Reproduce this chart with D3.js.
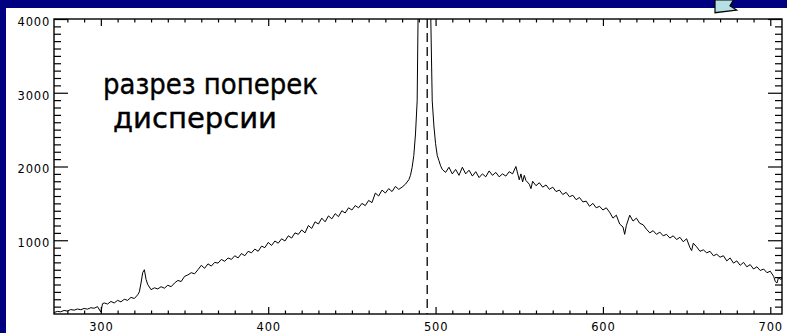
<!DOCTYPE html>
<html><head><meta charset="utf-8">
<script src="https://cdn.jsdelivr.net/npm/d3@7"></script>
<style>html,body{margin:0;padding:0;background:#000080;}svg{display:block;}</style>
</head><body>
<script>
// ---- data ----
const positions = [
272,274,276,278,280,282,284,286,288,290,
292,294,296,298,300,301,302,304,306,308,
310,312,314,316,318,320,322,323,324,325,
326,327,328,330,332,334,336,338,340,342,
344,346,348,350,352,354,356,358,360,362,
364,366,368,370,372,374,376,378,380,382,
384,386,388,390,392,394,396,398,400,402,
404,406,408,410,412,414,416,418,420,422,
424,426,428,430,432,434,436,438,440,442,
444,446,448,450,452,454,456,458,460,462,
464,466,468,470,472,474,476,478,480,482,
484,485,486,487,488,489,490,492,494,496,
497,498,499,500,501,502,503,504,506,508,
510,512,514,516,518,520,522,524,526,528,
530,532,534,536,538,540,542,544,546,548,
550,551,552,553,554,556,557,558,560,562,
564,566,568,570,572,574,576,578,580,582,
584,586,588,590,592,594,596,598,600,602,
604,606,608,610,612,613,614,616,618,620,
622,624,626,628,630,632,634,636,638,640,
642,644,646,648,650,652,653,654,656,658,
660,662,664,666,668,670,672,674,676,678,
680,682,684,686,688,690,692,694,696,698,
700,702,703,704,705,706,707
];
const counts = [
20,35,30,48,40,60,52,68,58,75,
66,85,78,100,25,140,150,135,170,150,
185,165,200,185,225,210,260,300,420,560,
600,470,400,330,355,340,370,350,390,370,
420,455,440,510,530,560,545,600,660,620,
680,650,700,690,740,715,760,740,790,760,
820,790,850,830,880,850,920,900,970,930,
990,960,1020,990,1060,1030,1100,1080,1140,1100,
1200,1160,1250,1220,1300,1250,1330,1290,1360,1320,
1400,1370,1440,1410,1470,1440,1500,1470,1540,1510,
1640,1600,1680,1640,1700,1660,1730,1690,1720,1760,
1820,1880,1990,2150,2440,2890,5000,9000,9000,6000,
4200,2890,2550,2310,2150,2080,2010,1960,1920,1990,
1900,1960,1880,1990,1900,1950,1870,1930,1850,1900,
1860,1940,1880,1920,1860,1900,1870,1930,1900,2000,
1820,1900,1790,1880,1810,1760,1700,1800,1740,1780,
1720,1750,1690,1720,1660,1680,1620,1650,1590,1610,
1550,1580,1520,1530,1460,1500,1440,1460,1410,1440,
1380,1300,1340,1220,1180,1080,1200,1340,1260,1300,
1230,1210,1150,1100,1130,1080,1110,1060,1080,1030,
1060,1010,1040,980,1020,900,860,960,910,850,
870,830,850,790,810,770,790,720,760,690,
720,660,700,640,670,610,640,590,610,560,
580,510,440,420,500,470,480
];
const xDomain = [272, 707];
const yDomain = [0, 4000];
const xMajorTicks = [300, 400, 500, 600, 700];
const yMajorTicks = [1000, 2000, 3000, 4000];
const markerPosition = 495;
const labelLines = ["разрез поперек", "дисперсии"];

// ---- drawing ----
const W = 787, H = 333;
const svg = d3.select("body").append("svg").attr("width", W).attr("height", H);
svg.append("rect").attr("width", W).attr("height", H).attr("fill", "#000080");
svg.append("rect").attr("x", 6).attr("y", 8).attr("width", W - 6).attr("height", H - 8).attr("fill", "#ffffff");

// decorative arrow piece at top right
svg.append("path")
  .attr("d", "M715,0 L715,12.7 L736.7,10 L730,5.7 L733.5,0 Z")
  .attr("fill", "#b5dfe4").attr("stroke", "#000").attr("stroke-width", 1.2);

const L = 54, R = 782, T = 19, B = 314;
const x = d3.scaleLinear().domain(xDomain).range([L, R]);
const y = d3.scaleLinear().domain(yDomain).range([B, T]);

const xMinor = d3.range(280, 708, 10).filter(v => !xMajorTicks.includes(v));
const yMinor = d3.range(100, 4000, 100).filter(v => !yMajorTicks.includes(v));

function styleAxis(g) {
  g.select(".domain").remove();
  g.selectAll(".tick line").attr("stroke", "#000").attr("stroke-width", 1.2);
  g.selectAll("text").attr("fill", "#000").attr("font-family", "DejaVu Sans, sans-serif")
    .attr("font-size", 11.5).attr("letter-spacing", 0.8);
}

// bottom
svg.append("g").attr("transform", `translate(0,${B})`)
  .call(d3.axisBottom(x).tickValues(xMajorTicks).tickSize(-7).tickPadding(9).tickFormat(d3.format("d")))
  .call(styleAxis);
svg.append("g").attr("transform", `translate(0,${B})`)
  .call(d3.axisBottom(x).tickValues(xMinor).tickSize(-3.5).tickFormat(""))
  .call(styleAxis);
// top
svg.append("g").attr("transform", `translate(0,${T})`)
  .call(d3.axisTop(x).tickValues(xMajorTicks).tickSize(-7).tickFormat(""))
  .call(styleAxis);
svg.append("g").attr("transform", `translate(0,${T})`)
  .call(d3.axisTop(x).tickValues(xMinor).tickSize(-3.5).tickFormat(""))
  .call(styleAxis);
// left
const gl = svg.append("g").attr("transform", `translate(${L},0)`)
  .call(d3.axisLeft(y).tickValues(yMajorTicks).tickSize(-14).tickPadding(4).tickFormat(d3.format("d")))
  .call(styleAxis);
gl.selectAll("text").attr("dy", "0.55em");
svg.append("g").attr("transform", `translate(${L},0)`)
  .call(d3.axisLeft(y).tickValues(yMinor).tickSize(-7).tickFormat(""))
  .call(styleAxis);
// right
svg.append("g").attr("transform", `translate(${R},0)`)
  .call(d3.axisRight(y).tickValues(yMajorTicks).tickSize(-14).tickFormat(""))
  .call(styleAxis);
svg.append("g").attr("transform", `translate(${R},0)`)
  .call(d3.axisRight(y).tickValues(yMinor).tickSize(-7).tickFormat(""))
  .call(styleAxis);

// frame
svg.append("rect").attr("x", L).attr("y", T).attr("width", R - L).attr("height", B - T)
  .attr("fill", "none").attr("stroke", "#000").attr("stroke-width", 1.4);

// clip
svg.append("clipPath").attr("id", "plotclip").append("rect")
  .attr("x", L).attr("y", T).attr("width", R - L).attr("height", B - T);

const series = positions.map((p, i) => ({p, c: counts[i]}));
svg.append("path").datum(series)
  .attr("clip-path", "url(#plotclip)")
  .attr("fill", "none").attr("stroke", "#000").attr("stroke-width", 1)
  .attr("d", d3.line().x(d => x(d.p)).y(d => y(d.c)));

// dashed marker
svg.append("line")
  .attr("x1", x(markerPosition)).attr("x2", x(markerPosition))
  .attr("y1", y(yDomain[1])).attr("y2", y(yDomain[0]))
  .attr("stroke", "#000").attr("stroke-width", 1.3).attr("stroke-dasharray", "9,5");

// annotation
const annStyle = t => t.attr("font-family", "DejaVu Sans, sans-serif").attr("font-size", 28)
  .attr("fill", "#000").attr("stroke", "#000").attr("stroke-width", 0.4)
  .attr("lengthAdjust", "spacingAndGlyphs");
svg.append("text").call(annStyle).attr("x", 103).attr("y", 94)
  .attr("textLength", 215).text(labelLines[0]);
svg.append("text").call(annStyle).attr("x", 113).attr("y", 128)
  .attr("textLength", 164).text(labelLines[1]);
</script>
</body></html>
